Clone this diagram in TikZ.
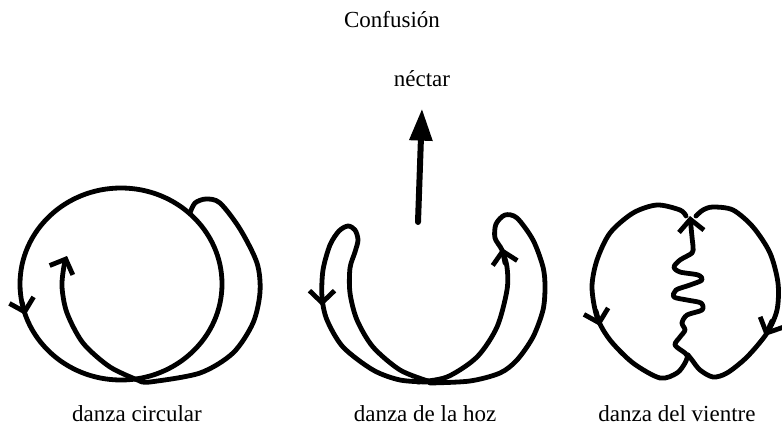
\documentclass[tikz,border=0pt]{standalone}
\usepackage{fontspec}
\setmainfont{Liberation Serif}
\usetikzlibrary{arrows.meta}

\begin{document}
\begin{tikzpicture}[x=1pt, y=-1pt, line width=4.8pt, line cap=round, line join=round,
    font=\fontsize{23}{28}\selectfont,
    dancename/.style={anchor=base, inner sep=0pt},
    dancebarb/.style={-{Straight Barb[length=12pt,width=25pt]}}]
  \useasboundingbox (0,0) rectangle (782,428);
  \node[dancename] (conf) at (392,28) {Confusión};
  \node[dancename] (nectar) at (422,86) {néctar};
  \coordinate (nectarfoot) at (418,222);
  \draw[-{Triangle[length=32pt,width=22pt]}, line width=6pt] (nectarfoot) -- ([yshift=-20pt]nectar.south);

  \draw (121,284) ellipse [x radius=101, y radius=96];
  \draw[dancebarb] (22,302) -- (25.5,315);
  \draw plot[smooth] coordinates {(190,213) (195,203) (206,199) (220,203) (240,229) (257,263) (260,292) (253,323) (233,353) (200,373) (150,382) (140,381)};
  \draw[dancebarb] plot[smooth] coordinates {(140,381) (110,367) (83,343) (67,313) (62,287) (64,266) (67,256)};
  \node[dancename] (circ) at (137,421) {danza circular};

  \draw plot[smooth] coordinates {(428,382) (400,380) (373,370) (343,347) (327,320) (322,297) (323,270) (330,245) (339,231) (348,226) (355,230) (358,240) (355,252) (350,268) (350,293) (357,320) (373,347) (400,370) (428,381)};
  \draw plot[smooth] coordinates {(418,382) (447,377) (477,357) (497,327) (507,290) (507,267) (502,250) (495,238) (496,224) (505,215) (517,218) (533,240) (543,267) (545,287) (543,310) (533,337) (517,360) (500,373) (470,381) (430,383)};
  \draw[dancebarb] (322,291) -- (322,306);
  \draw[dancebarb] (505,263) -- (502,248);
  \node[dancename] (hoz) at (425,421) {danza de la hoz};

  \draw plot[smooth] coordinates {(686,216) (680,210) (657,205) (633,213) (610,233) (597,260) (592,287) (597,317) (610,340) (633,363) (660,378) (677,373) (685,363) (688,355)};
  \draw plot[smooth] coordinates {(696,216) (703,210) (713,207) (733,210) (753,227) (770,253) (778,283) (777,310) (767,333) (747,357) (727,373) (713,377) (700,370) (692,360) (688,355)};
  \draw[dancebarb] plot[smooth] coordinates {(688,357) (685,353) (675,345) (680,337) (685,330) (682,323) (687,315) (702,310) (701,303) (687,300) (674,297) (676,290) (690,285) (702,280) (698,275) (680,272) (674,267) (680,260) (692,253) (693,247) (692,237) (690,216)};
  \draw[dancebarb] (596,311) -- (600,326);
  \draw[dancebarb] (772,321) -- (765,336);
  \node[dancename] (vientre) at (677,421) {danza del vientre};
\end{tikzpicture}
\end{document}
